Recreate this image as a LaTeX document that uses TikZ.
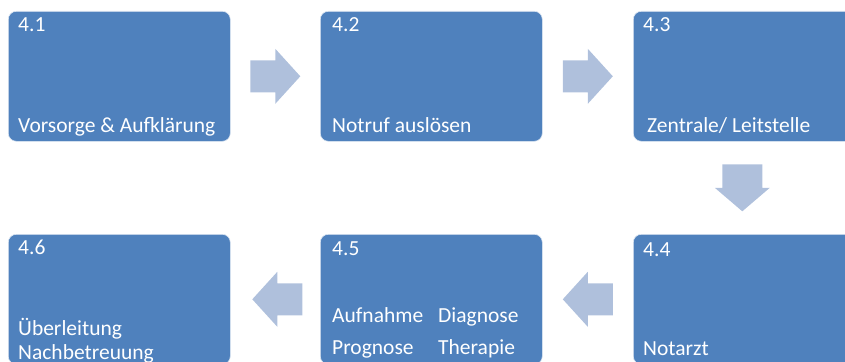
\documentclass[tikz,border=0pt]{standalone}
\usepackage{fontspec}
\setmainfont{Carlito}
\usetikzlibrary{calc}
\definecolor{boxblue}{HTML}{4F81BD}
\definecolor{arrowblue}{HTML}{AFC0DC}
\begin{document}
\begin{tikzpicture}[x=1pt,y=-1pt,
  stage/.style={draw=white!80!boxblue, line width=0.6pt, fill=boxblue, rounded corners=8pt,
    minimum width=222pt, minimum height=130pt, anchor=north west, inner sep=0pt},
  lbl/.style={anchor=base west, inner sep=0pt, text=white, font=\fontsize{21.5}{25}\selectfont},
  flow/.style={fill=arrowblue}]
\useasboundingbox (0,0) rectangle (845,361);
\clip (0,0) rectangle (845,361);
% boxes
\node[stage] (b1) at (8,11) {};
\node[stage] (b2) at (320,11) {};
\node[stage] (b3) at (633,11) {};
\node[stage] (b4) at (633,234) {};
\node[stage] (b5) at (320,234) {};
\node[stage] (b6) at (8,234) {};
% labels
\node[lbl] (n1) at ($(b1.north west)+(10,21)$) {4.1};
\node[lbl] (t1) at ($(b1.north west)+(10,121)$) {Vorsorge \& Aufklärung};
\node[lbl] (n2) at ($(b2.north west)+(12,21)$) {4.2};
\node[lbl] (t2) at ($(b2.north west)+(12,121)$) {Notruf auslösen};
\node[lbl] (n3) at ($(b3.north west)+(10,21)$) {4.3};
\node[lbl] (t3) at ($(b3.north west)+(14,121)$) {Zentrale/ Leitstelle};
\node[lbl] (n4) at ($(b4.north west)+(10,22)$) {4.4};
\node[lbl] (t4) at ($(b4.north west)+(10,121)$) {Notarzt};
\node[lbl] (n5) at ($(b5.north west)+(12,21)$) {4.5};
\node[lbl] (t5a) at ($(b5.north west)+(12,88)$) {Aufnahme};
\node[lbl] (t5b) at ($(b5.north west)+(118,88)$) {Diagnose};
\node[lbl] (t5c) at ($(b5.north west)+(12,120)$) {Prognose};
\node[lbl] (t5d) at ($(b5.north west)+(118,120)$) {Therapie};
\node[lbl] (n6) at ($(b6.north west)+(10,20)$) {4.6};
\node[lbl] (t6a) at ($(b6.north west)+(10,101)$) {Überleitung};
\node[lbl] (t6b) at ($(b6.north west)+(10,125)$) {Nachbetreuung};
% arrows right
\fill[flow, shift={($(b1.east)!0.5!(b2.west)$)}]
  (-25,-16) -- (0,-16) -- (0,-27.5) -- (25,0) -- (0,27.5) -- (0,16) -- (-25,16) -- cycle;
\fill[flow, shift={($(b2.east)!0.5!(b3.west)$)}]
  (-25,-16) -- (0,-16) -- (0,-27.5) -- (25,0) -- (0,27.5) -- (0,16) -- (-25,16) -- cycle;
% arrow down
\fill[flow, shift={($(b3.south)!0.5!(b4.north)+(-2,0)$)}]
  (-20,-23.5) -- (20,-23.5) -- (20,0) -- (27.5,0) -- (0,23.5) -- (-27.5,0) -- (-20,0) -- cycle;
% arrows left
\fill[flow, shift={($(b4.west)!0.5!(b5.east)$)}]
  (25,-16) -- (0,-16) -- (0,-27.5) -- (-25,0) -- (0,27.5) -- (0,16) -- (25,16) -- cycle;
\fill[flow, shift={($(b5.west)!0.5!(b6.east)+(2,0)$)}]
  (25,-16) -- (0,-16) -- (0,-27.5) -- (-25,0) -- (0,27.5) -- (0,16) -- (25,16) -- cycle;
\end{tikzpicture}
\end{document}
